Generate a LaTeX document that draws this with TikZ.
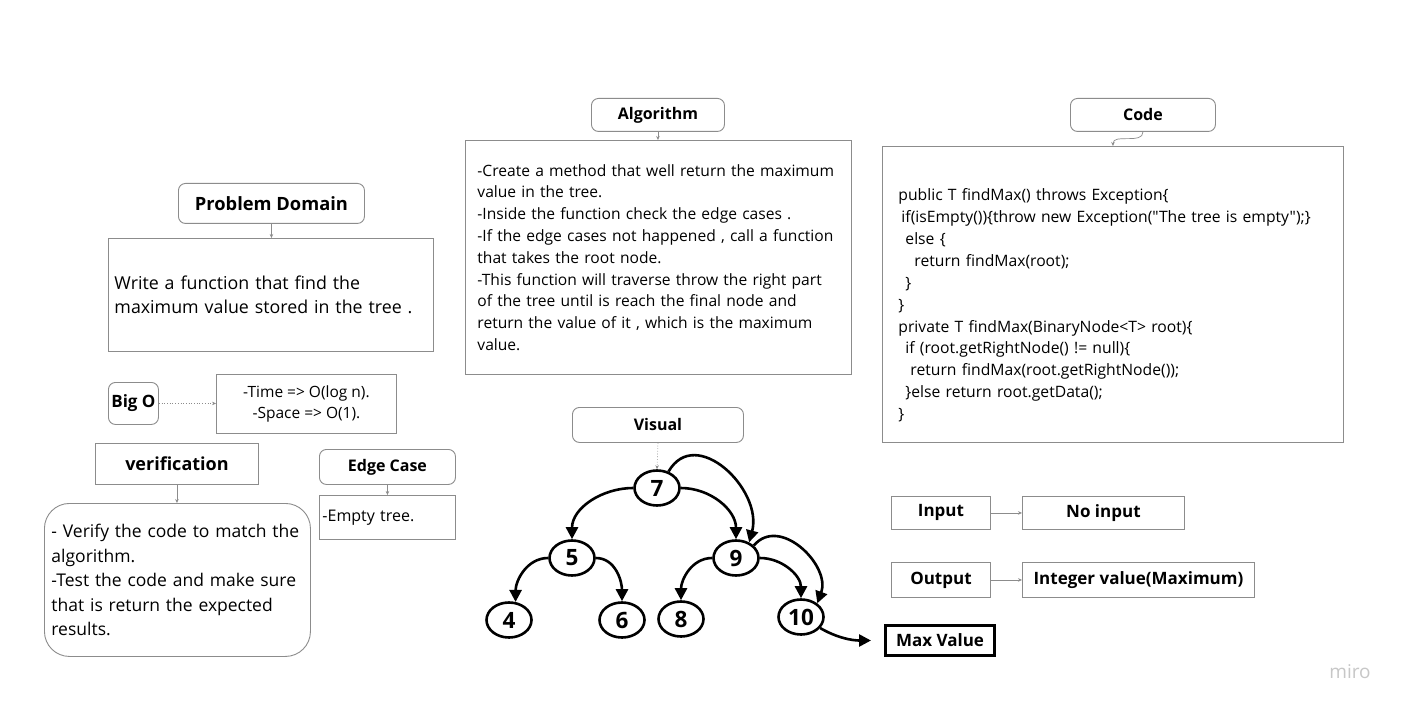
\documentclass[tikz,border=0pt]{standalone}
\usepackage{fontspec}
\setmainfont{Open Sans}
\newfontfamily\codefont{Open Sans}[Ligatures=TeXOff]
\usepackage{xcolor}
\usetikzlibrary{arrows.meta}
\usetikzlibrary{shapes.geometric}
\definecolor{linegray}{HTML}{8C8C8C}
\tikzset{hdr/.style={draw=linegray, line width=0.9pt, rounded corners=7pt, anchor=north west,
inner sep=0pt, align=center, font=\bfseries\fontsize{16}{19}\selectfont},
txtbox/.style={draw=linegray, line width=0.9pt, anchor=north west, align=left,
font=\fontsize{16}{21.8}\selectfont},
iobox/.style={txtbox, align=center, inner sep=0pt, font=\bfseries\fontsize{17}{20}\selectfont},
conn/.style={draw=linegray, line width=0.7pt, -{Stealth[length=4pt,width=3.5pt]}},
treenode/.style={ellipse, draw, line width=2.6pt, minimum width=45pt, minimum height=35pt,
inner sep=0pt, font=\bfseries\fontsize{22.5}{22}\selectfont},
treearrow/.style={line width=2.6pt, -{Triangle[length=12pt,width=12pt]}}}

\begin{document}
\begin{tikzpicture}[x=1pt, y=-1pt]
	\fill[white] (0,0) rectangle (1405,711);
	\useasboundingbox (0,0) rectangle (1405,711);

	\node[hdr, minimum width=186pt, minimum height=40pt, font=\bfseries\fontsize{18.3}{20}\selectfont] (pd) at (178,183) {Problem Domain};
	\node[txtbox, minimum width=325pt, minimum height=113pt, inner xsep=6pt, text width=313pt,
		font=\fontsize{17.8}{24.4}\selectfont] (pdtxt) at (108,238)
		{Write a function that find the\\maximum value stored in the tree .};
	\draw[conn] (pd.south) -- (pd.south |- pdtxt.north);

	\node[hdr, minimum width=50pt, minimum height=42pt, font=\bfseries\fontsize{17}{20}\selectfont] (bigo) at (108,382) {Big O};
	\node[txtbox, minimum width=180pt, minimum height=59pt, align=center, inner sep=0pt,
		font=\fontsize{15.5}{21}\selectfont] (cplx) at (216,374) {-Time => O(log n).\\-Space => O(1).};
	\draw[conn, dotted] (bigo.east) -- (bigo.east -| cplx.west);

	\node[iobox, minimum width=163pt, minimum height=41pt, font=\bfseries\fontsize{18}{20}\selectfont] (verif) at (95,443) {verification};
	\node[txtbox, rounded corners=25pt, minimum width=266pt, minimum height=153pt, inner xsep=7pt, text width=252pt,
		font=\fontsize{17.5}{24.5}\selectfont] (veriftxt) at (44,503)
		{\mbox{- Verify the code to match the}\\algorithm.\\\mbox{-Test the code and make sure}\\\mbox{that is return the expected}\\results.};
	\draw[conn] (verif.south) -- (verif.south |- veriftxt.north);

	\node[hdr, minimum width=136pt, minimum height=35pt] (edge) at (319,449) {Edge Case};
	\node[txtbox, minimum width=136pt, minimum height=44pt, inner xsep=3pt, text width=130pt] (edgetxt) at (319,495) {-Empty tree.};
	\draw[conn] (edge.south) -- (edgetxt.north);

	\node[hdr, minimum width=133pt, minimum height=33pt] (algo) at (591,98) {Algorithm};
	\node[txtbox, minimum width=386pt, minimum height=234pt, inner xsep=12pt, text width=362pt,
		font=\fontsize{15.6}{21.8}\selectfont] (algotxt) at (465,140)
		{\mbox{-Create a method that well return the maximum}\\
		value in the tree.\\
		\mbox{-Inside the function check the edge cases .}\\
		\mbox{-If the edge cases not happened , call a function}\\
		that takes the root node.\\
		\mbox{-This function will traverse throw the right part}\\
		\mbox{of the tree until is reach the final node and}\\
		\mbox{return the value of it , which is the maximum}\\
		value.};
	\draw[conn] (algo.south) -- (algo.south |- algotxt.north);

	\node[hdr, minimum width=145pt, minimum height=33pt] (code) at (1070,98) {Code};
	\node[txtbox, minimum width=461pt, minimum height=296pt, inner xsep=16pt, text width=429pt,
		font=\codefont\fontsize{15.7}{21.9}\selectfont] (codetxt) at (882,146)
		{\mbox{}\\[12pt]
		public T findMax() throws Exception\{\\
		\mbox{\hspace*{3pt}if(isEmpty())\{throw new Exception("The tree is empty");\}}\\
		\hspace*{7pt}else \{\\
		\hspace*{16pt}return findMax(root);\\
		\hspace*{7pt}\}\\
		\}\\
		private T findMax(BinaryNode<T> root)\{\\
		\hspace*{7pt}if (root.getRightNode() != null)\{\\
		\hspace*{12pt}return findMax(root.getRightNode());\\
		\hspace*{7pt}\}else return root.getData();\\
		\}};
	\draw[conn] (code.south) to[out=-90, in=90] (codetxt.north);

	\node[hdr, minimum width=171pt, minimum height=35pt] (visual) at (572,407) {Visual};
	\node[treenode] (n7) at (657,488) {7};
	\node[treenode] (n5) at (572,558) {5};
	\node[treenode] (n9) at (736,558) {9};
	\node[treenode] (n4) at (509,620) {4};
	\node[treenode] (n6) at (622,620) {6};
	\node[treenode] (n8) at (681,619) {8};
	\node[treenode] (n10) at (801,617) {10};
	\draw[conn, dotted] (visual.south) -- (n7.north);
	\draw[treearrow] (n7.west) to[out=180, in=90] (n5.north);
	\draw[treearrow] (n7.east) to[out=0, in=90] (n9.north);
	\draw[treearrow] (n7.55) to[out=60, in=75, looseness=1.3] (n9.50);
	\draw[treearrow] (n5.west) to[out=180, in=90] (n4.70);
	\draw[treearrow] (n5.east) to[out=0, in=90] (n6.north);
	\draw[treearrow] (n9.west) to[out=180, in=90] (n8.north);
	\draw[treearrow] (n9.east) to[out=0, in=90] (n10.north);
	\draw[treearrow] (n9.35) to[out=50, in=70, looseness=1.2] (n10.40);

	\node[draw, line width=3pt, anchor=north west, minimum width=109pt, minimum height=30pt, inner sep=0pt,
		font=\bfseries\fontsize{17}{20}\selectfont] (maxv) at (884,624) {Max Value};
	\draw[treearrow, shorten >=13pt] (n10.-30) to[out=-30, in=180] (maxv.west);

	\node[iobox, minimum width=99pt, minimum height=33pt] (inp) at (891,496) {Input};
	\node[iobox, minimum width=162pt, minimum height=33pt] (noinp) at (1022,496) {No input};
	\draw[conn] (inp.east) -- (noinp.west);
	\node[iobox, minimum width=99pt, minimum height=35pt] (outp) at (891,562) {Output};
	\node[iobox, minimum width=232pt, minimum height=35pt] (intval) at (1022,562) {Integer value(Maximum)};
	\draw[conn] (outp.east) -- (intval.west);

	\node[text=black!22, font=\fontsize{19}{20}\selectfont] (miro) at (1350,672) {miro};
\end{tikzpicture}
\end{document}
